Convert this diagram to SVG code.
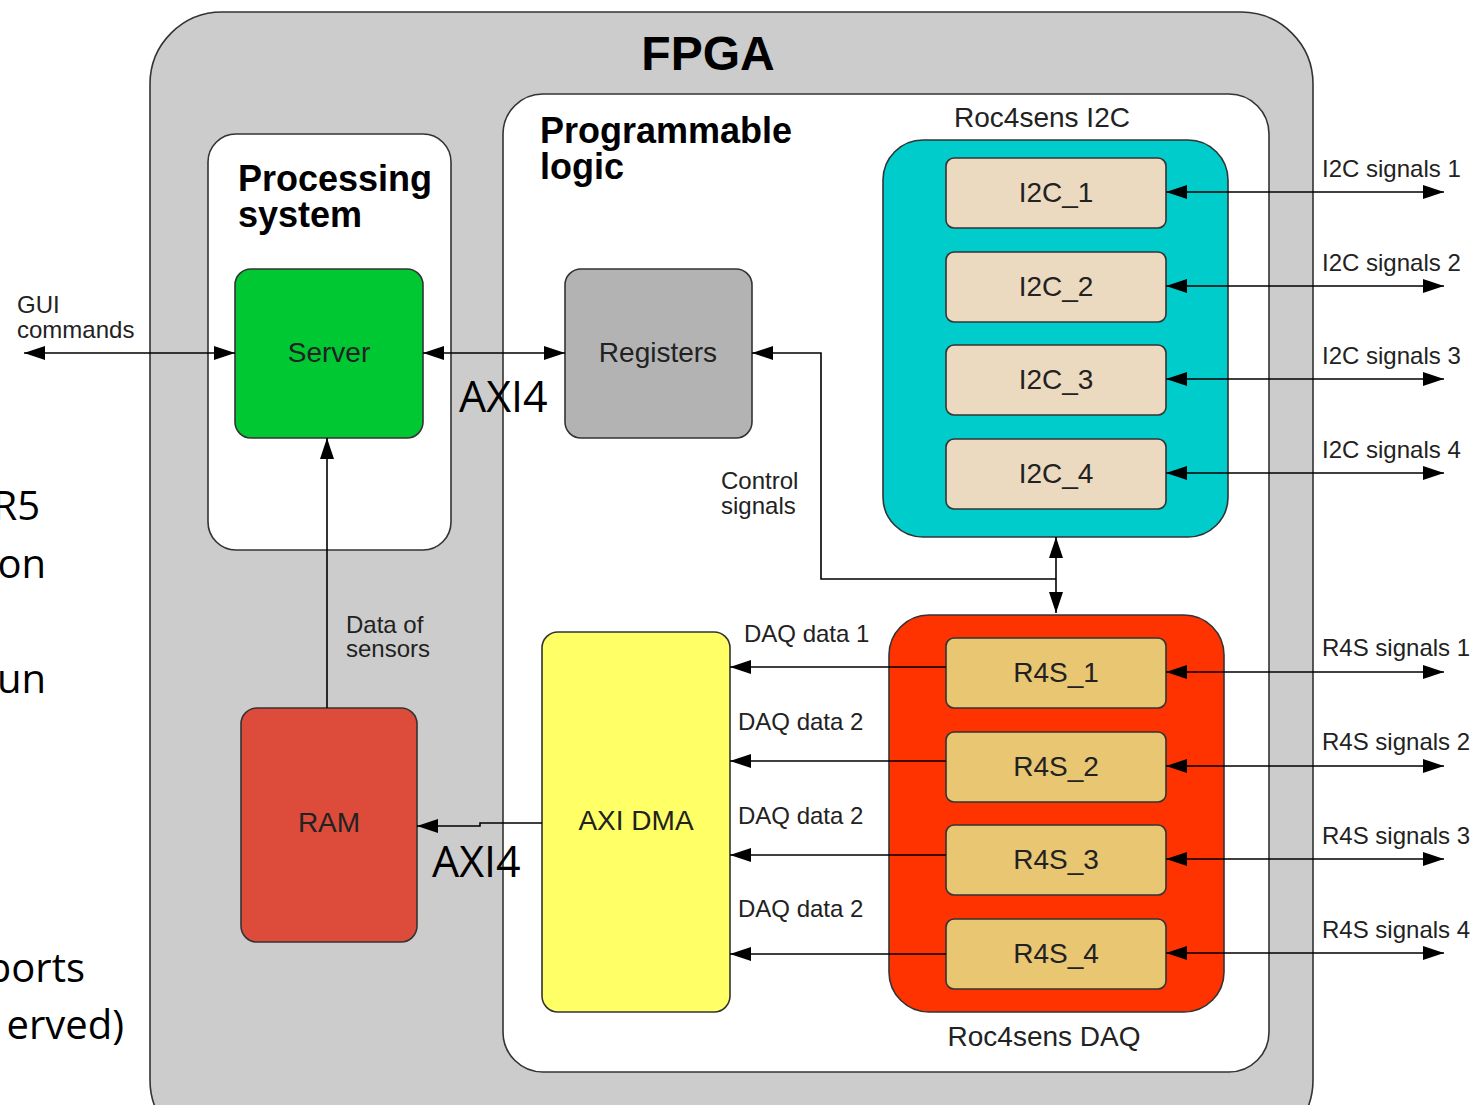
<svg xmlns="http://www.w3.org/2000/svg" width="1474" height="1105" viewBox="0 0 1474 1105">
<defs>
<marker id="ah" markerUnits="userSpaceOnUse" markerWidth="22" markerHeight="16" refX="21" refY="8" orient="auto-start-reverse"><path d="M0,1 L21,8 L0,15 z" fill="#000"/></marker>
<style>
.box{stroke:#333;stroke-width:1.6}
.lbl{font-family:"Liberation Sans",Arial,sans-serif;fill:#222}
.nl{font-family:"Liberation Sans",Arial,sans-serif;fill:#222;font-size:28px;text-anchor:middle}
.ttl{font-family:"Liberation Sans",Arial,sans-serif;font-weight:bold;fill:#000}
.ln{stroke:#000;stroke-width:1.6;fill:none}
.cal{font-family:"Open Sans","Liberation Sans",sans-serif;fill:#000}
</style>
</defs>
<rect width="1474" height="1105" fill="#fff"/>
<g id="slide-text" class="cal" font-size="40" text-anchor="end">
<text x="40" y="520">R5</text>
<text x="46" y="578">on</text>
<text x="46" y="693">un</text>
<text x="85" y="982">ports</text>
<text x="124" y="1039">erved)</text>
</g>
<g id="fpga">
<rect class="box" x="150" y="12" width="1163" height="1140" rx="72" fill="#cccccc"/>
<text class="ttl" x="708" y="70" font-size="48" text-anchor="middle">FPGA</text>
</g>
<g id="processing-system">
<rect class="box" x="208" y="134" width="243" height="416" rx="28" fill="#fff"/>
<text class="ttl" x="238" y="191" font-size="36">Processing</text>
<text class="ttl" x="238" y="227" font-size="36">system</text>
</g>
<g id="programmable-logic">
<rect class="box" x="503" y="94" width="766" height="978" rx="40" fill="#fff"/>
<text class="ttl" x="540" y="143" font-size="36">Programmable</text>
<text class="ttl" x="540" y="179" font-size="36">logic</text>
</g>
<g id="server">
<rect class="box" x="235" y="269" width="188" height="169" rx="16" fill="#00c832"/>
<text class="nl" x="329" y="362">Server</text>
</g>
<g id="registers">
<rect class="box" x="565" y="269" width="187" height="169" rx="16" fill="#b3b3b3"/>
<text class="nl" x="658" y="362">Registers</text>
</g>
<g id="roc4sens-i2c">
<text class="nl" x="1042" y="127">Roc4sens I2C</text>
<rect class="box" x="883" y="140" width="345" height="397" rx="40" fill="#00cccc"/>
</g>
<g id="i2c_1"><rect class="box" x="946" y="158" width="220" height="70" rx="8" fill="#ecdac0"/><text class="nl" x="1056" y="202">I2C_1</text></g>
<g id="i2c_2"><rect class="box" x="946" y="252" width="220" height="70" rx="8" fill="#ecdac0"/><text class="nl" x="1056" y="296">I2C_2</text></g>
<g id="i2c_3"><rect class="box" x="946" y="345" width="220" height="70" rx="8" fill="#ecdac0"/><text class="nl" x="1056" y="389">I2C_3</text></g>
<g id="i2c_4"><rect class="box" x="946" y="439" width="220" height="70" rx="8" fill="#ecdac0"/><text class="nl" x="1056" y="483">I2C_4</text></g>
<g id="roc4sens-daq">
<rect class="box" x="889" y="615" width="335" height="397" rx="40" fill="#ff3300"/>
<text class="nl" x="1044" y="1046">Roc4sens DAQ</text>
</g>
<g id="r4s_1"><rect class="box" x="946" y="638" width="220" height="70" rx="8" fill="#e8c672"/><text class="nl" x="1056" y="682">R4S_1</text></g>
<g id="r4s_2"><rect class="box" x="946" y="732" width="220" height="70" rx="8" fill="#e8c672"/><text class="nl" x="1056" y="776">R4S_2</text></g>
<g id="r4s_3"><rect class="box" x="946" y="825" width="220" height="70" rx="8" fill="#e8c672"/><text class="nl" x="1056" y="869">R4S_3</text></g>
<g id="r4s_4"><rect class="box" x="946" y="919" width="220" height="70" rx="8" fill="#e8c672"/><text class="nl" x="1056" y="963">R4S_4</text></g>
<g id="axi-dma">
<rect class="box" x="542" y="632" width="188" height="380" rx="16" fill="#ffff66"/>
<text class="nl" x="636" y="830">AXI DMA</text>
</g>
<g id="ram">
<rect class="box" x="241" y="708" width="176" height="234" rx="16" fill="#dd4b3a"/>
<text class="nl" x="329" y="832">RAM</text>
</g>
<g id="connectors">
<line class="ln" x1="24" y1="353" x2="235" y2="353" marker-start="url(#ah)" marker-end="url(#ah)"/>
<line class="ln" x1="423" y1="353" x2="565" y2="353" marker-start="url(#ah)" marker-end="url(#ah)"/>
<polyline class="ln" points="1056,579 821,579 821,353 752,353" marker-end="url(#ah)"/>
<line class="ln" x1="1056" y1="537" x2="1056" y2="613" marker-start="url(#ah)" marker-end="url(#ah)"/>
<line class="ln" x1="1166" y1="192" x2="1444" y2="192" marker-start="url(#ah)" marker-end="url(#ah)"/>
<line class="ln" x1="1166" y1="286" x2="1444" y2="286" marker-start="url(#ah)" marker-end="url(#ah)"/>
<line class="ln" x1="1166" y1="379" x2="1444" y2="379" marker-start="url(#ah)" marker-end="url(#ah)"/>
<line class="ln" x1="1166" y1="473" x2="1444" y2="473" marker-start="url(#ah)" marker-end="url(#ah)"/>
<line class="ln" x1="1166" y1="672" x2="1444" y2="672" marker-start="url(#ah)" marker-end="url(#ah)"/>
<line class="ln" x1="1166" y1="766" x2="1444" y2="766" marker-start="url(#ah)" marker-end="url(#ah)"/>
<line class="ln" x1="1166" y1="859" x2="1444" y2="859" marker-start="url(#ah)" marker-end="url(#ah)"/>
<line class="ln" x1="1166" y1="953" x2="1444" y2="953" marker-start="url(#ah)" marker-end="url(#ah)"/>
<line class="ln" x1="946" y1="667" x2="730" y2="667" marker-end="url(#ah)"/>
<line class="ln" x1="946" y1="761" x2="730" y2="761" marker-end="url(#ah)"/>
<line class="ln" x1="946" y1="855" x2="730" y2="855" marker-end="url(#ah)"/>
<line class="ln" x1="946" y1="954" x2="730" y2="954" marker-end="url(#ah)"/>
<polyline class="ln" points="542,823 480,823 480,826 417,826" marker-end="url(#ah)"/>
<line class="ln" x1="327" y1="708" x2="327" y2="438" marker-end="url(#ah)"/>
</g>
<g id="labels" class="lbl" font-size="24">
<text x="17" y="313">GUI</text>
<text x="17" y="338">commands</text>
<text x="721" y="489">Control</text>
<text x="721" y="514">signals</text>
<text x="346" y="633">Data of</text>
<text x="346" y="657">sensors</text>
<text x="744" y="642">DAQ data 1</text>
<text x="738" y="730">DAQ data 2</text>
<text x="738" y="824">DAQ data 2</text>
<text x="738" y="917">DAQ data 2</text>
<text x="1322" y="177">I2C signals 1</text>
<text x="1322" y="271">I2C signals 2</text>
<text x="1322" y="364">I2C signals 3</text>
<text x="1322" y="458">I2C signals 4</text>
<text x="1322" y="656">R4S signals 1</text>
<text x="1322" y="750">R4S signals 2</text>
<text x="1322" y="844">R4S signals 3</text>
<text x="1322" y="938">R4S signals 4</text>
</g>
<g id="axi4-labels" class="cal" font-size="43">
<text x="459" y="412">AXI4</text>
<text x="432" y="877">AXI4</text>
</g>
</svg>
